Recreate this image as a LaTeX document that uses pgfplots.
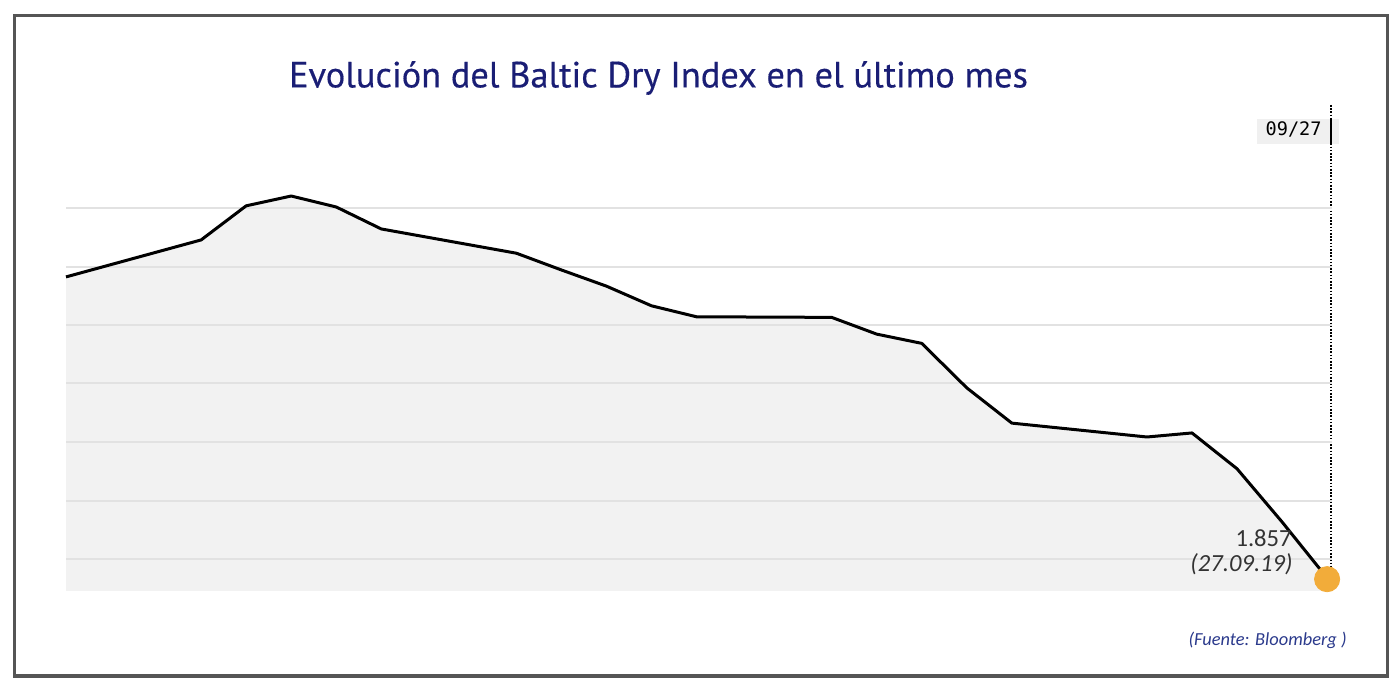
\documentclass[border=0pt]{standalone}
\usepackage{fontspec}
\setmainfont{Carlito}
\newfontfamily\titlefont[FakeBold=0.4]{PT Sans}
\newfontfamily\monofont{DejaVu Sans Mono}
\usepackage{pgfplots}
\usepackage{pgfplotstable}
\pgfplotsset{compat=1.18}
\definecolor{titleblue}{HTML}{1A1E75}
\definecolor{fuenteblue}{HTML}{2B3A8C}
\definecolor{framegray}{HTML}{555555}
\definecolor{fillgray}{HTML}{F2F2F2}
\definecolor{gridgray}{HTML}{E2E2E2}
\definecolor{boxgray}{HTML}{F0F0F0}
\definecolor{dotorange}{HTML}{F2AC3A}
\definecolor{labelgray}{HTML}{333333}
\pgfplotstableread{
d v
0 2378
3 2442
4 2501
5 2518
6 2499
7 2461
10 2419
11 2390
12 2362
13 2328
14 2309
17 2308
18 2279
19 2263
20 2186
21 2125
24 2101
25 2108
26 2046
27 1954
28 1857
}\bdi
\begin{document}
\begin{tikzpicture}
\path[use as bounding box] (0,0) rectangle (700pt,347.5pt);
\draw[line width=1.6pt, color=framegray] (7.25pt,9.5pt) rectangle (693.75pt,339.75pt);
\node[anchor=base, inner sep=0pt, text=titleblue] at (329.25pt,303.8pt)
  {\titlefont\fontsize{18.2}{21}\selectfont Evolución del Baltic Dry Index en el último mes};
% date box and cursor line
\fill[boxgray] (628.5pt,275.5pt) rectangle (669.5pt,288pt);
\node[anchor=base east, inner sep=0pt, text=black] at (661pt,279.5pt)
  {\monofont\fontsize{9.3}{11}\selectfont 09/27};
\draw[line width=0.6pt, dash pattern=on 0.8pt off 0.8pt] (665.5pt,295pt) -- (665.5pt,62.5pt);
\draw[line width=0.7pt] (665.5pt,288pt) -- (665.5pt,275.5pt);
\begin{axis}[
  at={(33pt,52pt)}, anchor=south west,
  width=632.8pt, height=243pt, scale only axis,
  xmin=0, xmax=28.1, ymin=1834.5, ymax=2675.5,
  xtick=\empty, ytick=\empty,
  axis line style={draw=none}, major tick length=0pt,
  clip=false,
]
\addplot[fill=fillgray, draw=none] table[x=d,y=v] {\bdi}
  -- (axis cs:28,1834.5) -- (axis cs:0,1834.5) -- cycle;
\pgfplotsinvokeforeach{1889.9,1991.1,2092.3,2193.6,2294.8,2396.0,2497.2}{
  \draw[line width=1pt, color=gridgray] (axis cs:0,#1) -- (axis cs:28.1,#1);
}
\addplot[black, line width=1.5pt, line join=round, mark=none] table[x=d,y=v] {\bdi};
\addplot[only marks, mark=*, mark size=6.3pt, color=dotorange] coordinates {(28,1855)};
\end{axis}
\node[anchor=base east, inner sep=0pt, text=labelgray] at (646pt,74pt)
  {\fontsize{12.3}{14}\selectfont 1.857};
\node[anchor=base east, inner sep=0pt, text=labelgray] at (646.5pt,61.5pt)
  {\fontsize{12.3}{14}\selectfont\itshape (27.09.19)};
\node[anchor=base east, inner sep=0pt, text=fuenteblue] at (673.5pt,25pt)
  {\fontsize{9.2}{11}\selectfont\itshape (Fuente: Bloomberg )};
\end{tikzpicture}
\end{document}
